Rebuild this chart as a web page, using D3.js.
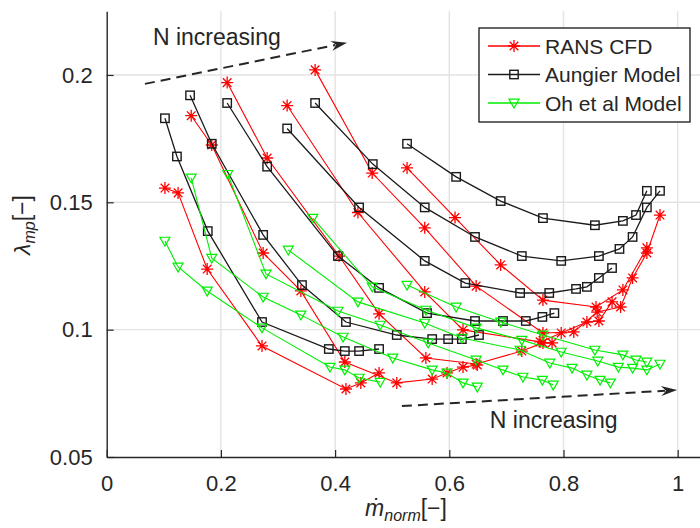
<!DOCTYPE html>
<html>
<head>
<meta charset="utf-8">
<script src="https://cdn.jsdelivr.net/npm/d3@7"></script>
<style>
  body { margin: 0; background: #fff; }
  svg { display: block; }
  text { font-family: "Liberation Sans", Arial, sans-serif; fill: #262626; }
</style>
</head>
<body>
<svg id="chart" width="700" height="528"></svg>
<script>
// Normalised mass flow (x) and lambda_mp (y) for six speed lines, lowest N first.
const ransMdot = [
  [0.102, 0.125, 0.176, 0.272, 0.419, 0.445, 0.477],
  [0.148, 0.184, 0.274, 0.340, 0.417, 0.508, 0.570, 0.596, 0.624, 0.649],
  [0.211, 0.281, 0.407, 0.477, 0.559, 0.647, 0.727, 0.764, 0.780],
  [0.316, 0.440, 0.557, 0.624, 0.759, 0.796, 0.841, 0.862, 0.885],
  [0.365, 0.465, 0.557, 0.647, 0.764, 0.818, 0.859, 0.900, 0.921, 0.946, 0.969],
  [0.526, 0.610, 0.690, 0.764, 0.857, 0.904, 0.946]
];
const ransLambda = [
  [0.1556, 0.1537, 0.1238, 0.0936, 0.0767, 0.0791, 0.0830],
  [0.1840, 0.1725, 0.1301, 0.1152, 0.0873, 0.0791, 0.0806, 0.0830, 0.0853, 0.0861],
  [0.1970, 0.1674, 0.1289, 0.1062, 0.0889, 0.0865, 0.0916, 0.0948, 0.0948],
  [0.1880, 0.1460, 0.1148, 0.0999, 0.0952, 0.0987, 0.1030, 0.1034, 0.1109],
  [0.2020, 0.1615, 0.1400, 0.1171, 0.0987, 0.0991, 0.1069, 0.1089, 0.1203, 0.1301, 0.1450],
  [0.1635, 0.1440, 0.1254, 0.1116, 0.1089, 0.1156, 0.1321]
];

const aungierMdot = [
  [0.102, 0.123, 0.177, 0.272, 0.389, 0.417, 0.442, 0.477],
  [0.146, 0.184, 0.274, 0.342, 0.419, 0.508, 0.570, 0.598, 0.622, 0.652],
  [0.211, 0.281, 0.405, 0.477, 0.561, 0.645, 0.694, 0.734, 0.763, 0.784],
  [0.316, 0.442, 0.557, 0.628, 0.724, 0.775, 0.822, 0.841, 0.862, 0.885],
  [0.365, 0.466, 0.557, 0.645, 0.727, 0.796, 0.862, 0.898, 0.921, 0.946, 0.969],
  [0.526, 0.612, 0.690, 0.764, 0.855, 0.904, 0.927, 0.946]
];
const aungierLambda = [
  [0.1830, 0.1680, 0.1387, 0.1030, 0.0924, 0.0916, 0.0916, 0.0924],
  [0.1920, 0.1730, 0.1372, 0.1175, 0.1030, 0.0979, 0.0963, 0.0963, 0.0963, 0.0979],
  [0.1890, 0.1640, 0.1289, 0.1164, 0.1065, 0.1034, 0.1034, 0.1034, 0.1050, 0.1065],
  [0.1790, 0.1480, 0.1270, 0.1183, 0.1144, 0.1144, 0.1160, 0.1168, 0.1203, 0.1242],
  [0.1890, 0.1650, 0.1480, 0.1364, 0.1289, 0.1270, 0.1289, 0.1317, 0.1364, 0.1480, 0.1545],
  [0.1730, 0.1600, 0.1505, 0.1438, 0.1410, 0.1427, 0.1450, 0.1545]
];

const ohMdot = [
  [0.102, 0.125, 0.176, 0.272, 0.391, 0.417, 0.442, 0.479],
  [0.148, 0.184, 0.274, 0.340, 0.414, 0.501, 0.570, 0.596, 0.624, 0.649],
  [0.212, 0.279, 0.405, 0.479, 0.563, 0.647, 0.694, 0.729, 0.763, 0.782],
  [0.318, 0.440, 0.557, 0.622, 0.724, 0.776, 0.815, 0.841, 0.864, 0.882],
  [0.361, 0.465, 0.559, 0.647, 0.727, 0.796, 0.860, 0.896, 0.921, 0.946, 0.969],
  [0.526, 0.612, 0.690, 0.764, 0.855, 0.904, 0.927, 0.946]
];
const ohLambda = [
  [0.1348, 0.1246, 0.1152, 0.1007, 0.0853, 0.0842, 0.0810, 0.0794],
  [0.1596, 0.1281, 0.1128, 0.1058, 0.0971, 0.0889, 0.0842, 0.0830, 0.0791, 0.0775],
  [0.1610, 0.1219, 0.1073, 0.1018, 0.0948, 0.0881, 0.0842, 0.0814, 0.0802, 0.0783],
  [0.1313, 0.1109, 0.1026, 0.0967, 0.0920, 0.0869, 0.0849, 0.0822, 0.0802, 0.0791],
  [0.1438, 0.1168, 0.1077, 0.1007, 0.0959, 0.0912, 0.0877, 0.0853, 0.0849, 0.0842, 0.0865],
  [0.1175, 0.1089, 0.1030, 0.0979, 0.0920, 0.0901, 0.0881, 0.0873]
];

const xTicks = [0, 0.2, 0.4, 0.6, 0.8, 1];
const xTickLabels = ["0", "0.2", "0.4", "0.6", "0.8", "1"];
const yTicks = [0.05, 0.1, 0.15, 0.2];
const yTickLabels = ["0.05", "0.1", "0.15", "0.2"];
const seriesNames = ["RANS CFD", "Aungier Model", "Oh et al Model"];
const seriesColors = ["#ff0000", "#1a1a1a", "#00ee00"];

// Arrow annotations in data units: [x0, y0, x1, y1]
const arrowTop = [0.067, 0.1965, 0.421, 0.2127];
const arrowBottom = [0.517, 0.0700, 0.999, 0.0763];
const noteText = "N increasing";
const noteTopPos = [0.081, 0.2118];
const noteBottomPos = [0.671, 0.0614];

const svg = d3.select("#chart");
const x = d3.scaleLinear().domain([0, 1.05]).range([106.7, 706.25]);
const y = d3.scaleLinear().domain([0.05, 0.225]).range([457, 11.3]);

// grid
const grid = svg.append("g").attr("stroke", "#e3e3e3").attr("stroke-width", 1.4);
xTicks.filter(d => d > 0).forEach(d => {
  grid.append("line").attr("x1", x(d)).attr("x2", x(d)).attr("y1", y(0.225)).attr("y2", y(0.05));
});
yTicks.filter(d => d > 0.05).forEach(d => {
  grid.append("line").attr("x1", x(0)).attr("x2", x(1.05)).attr("y1", y(d)).attr("y2", y(d));
});

// axes
const xAxis = d3.axisBottom(x).tickValues(xTicks)
  .tickFormat((d, i) => xTickLabels[i]).tickSizeInner(-7).tickSizeOuter(0).tickPadding(18);
const yAxis = d3.axisLeft(y).tickValues(yTicks)
  .tickFormat((d, i) => yTickLabels[i]).tickSizeInner(-7).tickSizeOuter(0).tickPadding(14);

const gx = svg.append("g").attr("transform", `translate(0,${y(0.05)})`).call(xAxis);
const gy = svg.append("g").attr("transform", `translate(${x(0)},0)`).call(yAxis);
[gx, gy].forEach(g => {
  g.select(".domain").attr("stroke", "#262626").attr("stroke-width", 1.4);
  g.selectAll(".tick line").attr("stroke", "#262626").attr("stroke-width", 1.2);
  g.selectAll(".tick text").attr("font-size", 22).attr("fill", "#262626")
    .attr("font-family", "Liberation Sans, Arial, sans-serif");
});

// markers
function starPath(r) {
  const a = r * 0.72;
  return `M${-r},0L${r},0M0,${-r}L0,${r}M${-a},${-a}L${a},${a}M${-a},${a}L${a},${-a}`;
}
function drawMarker(g, kind, cx, cy) {
  if (kind === 0) {
    g.append("path").attr("d", starPath(6)).attr("transform", `translate(${cx},${cy})`)
      .attr("stroke", seriesColors[0]).attr("stroke-width", 1.3).attr("fill", "none");
  } else if (kind === 1) {
    g.append("rect").attr("x", cx - 4.2).attr("y", cy - 4.2).attr("width", 8.4).attr("height", 8.4)
      .attr("stroke", seriesColors[1]).attr("stroke-width", 1.4).attr("fill", "none");
  } else {
    g.append("path").attr("d", "M-5,-3.8L5,-3.8L0,5Z").attr("transform", `translate(${cx},${cy})`)
      .attr("stroke", seriesColors[2]).attr("stroke-width", 1.2).attr("fill", "none");
  }
}

const families = [[ransMdot, ransLambda], [aungierMdot, aungierLambda], [ohMdot, ohLambda]];
const line = d3.line().x(d => x(d[0])).y(d => y(d[1]));
const plot = svg.append("g");
families.forEach(([xs, ys], k) => {
  xs.forEach((row, i) => {
    const pts = row.map((v, j) => [v, ys[i][j]]);
    const g = plot.append("g");
    g.append("path").attr("d", line(pts)).attr("fill", "none")
      .attr("stroke", seriesColors[k]).attr("stroke-width", k === 1 ? 1.3 : 1.1);
    pts.forEach(p => drawMarker(g, k, x(p[0]), y(p[1])));
  });
});

// arrows
function drawArrow(a) {
  const x0 = x(a[0]), y0 = y(a[1]), x1 = x(a[2]), y1 = y(a[3]);
  const ang = Math.atan2(y1 - y0, x1 - x0);
  const len = 16, hw = 5;
  const bx = x1 - len * Math.cos(ang), by = y1 - len * Math.sin(ang);
  svg.append("line").attr("x1", x0).attr("y1", y0).attr("x2", bx + 4 * Math.cos(ang)).attr("y2", by + 4 * Math.sin(ang))
    .attr("stroke", "#262626").attr("stroke-width", 2).attr("stroke-dasharray", "10,6");
  const nx = -Math.sin(ang), ny = Math.cos(ang);
  const nxp = x1 - (len - 5) * Math.cos(ang), nyp = y1 - (len - 5) * Math.sin(ang);
  svg.append("path")
    .attr("d", `M${x1},${y1}L${bx + nx * hw},${by + ny * hw}L${nxp},${nyp}L${bx - nx * hw},${by - ny * hw}Z`)
    .attr("fill", "#262626");
}
drawArrow(arrowTop);
drawArrow(arrowBottom);
svg.append("text").attr("x", x(noteTopPos[0])).attr("y", y(noteTopPos[1]))
  .attr("font-size", 23).text(noteText);
svg.append("text").attr("x", x(noteBottomPos[0])).attr("y", y(noteBottomPos[1]))
  .attr("font-size", 23).text(noteText);

// legend
const lg = svg.append("g");
lg.append("rect").attr("x", 479).attr("y", 28).attr("width", 211).attr("height", 94)
  .attr("fill", "#fff").attr("stroke", "#262626").attr("stroke-width", 1.4);
seriesNames.forEach((name, k) => {
  const cy = 46 + k * 28.5;
  lg.append("line").attr("x1", 488).attr("x2", 540).attr("y1", cy).attr("y2", cy)
    .attr("stroke", seriesColors[k]).attr("stroke-width", 1.3);
  drawMarker(lg, k, 514, cy);
  lg.append("text").attr("x", 545).attr("y", cy).attr("dy", "0.36em")
    .attr("font-size", 21).text(name);
});

// axis titles
const xt = svg.append("text").attr("x", 406).attr("y", 516).attr("text-anchor", "middle")
  .attr("font-family", "Liberation Serif, serif").attr("font-size", 23);
xt.append("tspan").attr("font-style", "italic").text("\u1E41");
xt.append("tspan").attr("font-style", "italic").attr("font-size", 16).attr("dy", 5).text("norm");
xt.append("tspan").attr("dy", -5).text("[\u2212]");

const yt = svg.append("text").attr("transform", "translate(30,225) rotate(-90)").attr("text-anchor", "middle")
  .attr("font-family", "Liberation Serif, serif").attr("font-size", 23);
yt.append("tspan").attr("font-style", "italic").text("\u03BB");
yt.append("tspan").attr("font-style", "italic").attr("font-size", 16).attr("dy", 5).text("mp");
yt.append("tspan").attr("dy", -5).text("[\u2212]");
</script>
</body>
</html>
